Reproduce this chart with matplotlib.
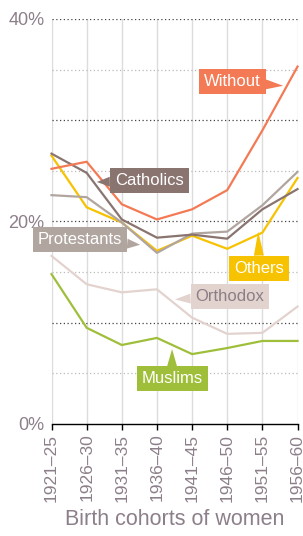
import matplotlib.pyplot as plt

# =====================================================
# DATA
# =====================================================

cohorts = ["1921–25", "1926–30", "1931–35", "1936–40",
           "1941–45", "1946–50", "1951–55", "1956–60"]

without = [25.2, 25.9, 21.7, 20.2, 21.2, 23.1, 29.0, 35.3]
catholics = [26.7, 24.8, 20.2, 18.4, 18.7, 18.3, 21.2, 23.2]
protestants = [22.6, 22.4, 19.9, 16.9, 18.8, 19.0, 21.6, 24.9]
others = [26.5, 21.4, 19.9, 17.1, 18.6, 17.3, 18.9, 24.3]
orthodox = [16.6, 13.8, 13.0, 13.3, 10.5, 8.9, 9.0, 11.6]
muslims = [14.8, 9.5, 7.8, 8.5, 6.9, 7.5, 8.2, 8.2]

# =====================================================
# STYLE
# =====================================================

plt.rcParams['font.family'] = ['Liberation Sans', 'DejaVu Sans']

TEXT_COLOR = "#8c7f8a"

series = [
    # name, values, colour, text colour, box centre, pointer tip
    ("Muslims", muslims, "#9fbf3b", "white", (3.43, 4.45), (3.43, 7.4)),
    ("Orthodox", orthodox, "#e3d3cf", "#8a7f86", (5.08, 12.6), (3.51, 12.3)),
    ("Others", others, "#f7c200", "white", (5.91, 15.4), (5.88, 19.0)),
    ("Protestants", protestants, "#b1a59f", "white", (0.81, 18.2), (2.52, 17.7)),
    ("Catholics", catholics, "#8a7470", "white", (2.78, 24.0), (1.29, 23.9)),
    ("Without", without, "#f37a55", "white", (5.14, 33.8), (6.59, 33.4)),
]

# =====================================================
# FIGURE
# =====================================================

fig = plt.figure(figsize=(3.03, 5.36), dpi=100)
ax = fig.add_axes([0.170, 0.209, 0.812, 0.7556])

x = list(range(len(cohorts)))

# grid
for xi in x:
    ax.axvline(xi, color="#dcdcdc", lw=1, zorder=0)

for yv in [10, 20, 30, 40]:
    ax.axhline(yv, color="#444444", lw=0.9, ls=(0, (1, 2)), zorder=0)

for yv in [5, 15, 25, 35]:
    ax.axhline(yv, color="#bbbbbb", lw=0.9, ls=(0, (1, 2)), zorder=0)

# lines and callouts
for name, vals, color, tcolor, box, tip in series:

    ax.plot(x, vals, color=color, lw=1.6, clip_on=False, zorder=3)

    ax.annotate(
        name,
        xy=tip,
        xytext=box,
        ha="center",
        va="center",
        fontsize=12,
        color=tcolor,
        zorder=5,
        bbox=dict(boxstyle="square,pad=0.3", fc=color, ec="none"),
        arrowprops=dict(
            arrowstyle="wedge,tail_width=0.6",
            fc=color,
            ec="none",
            shrinkA=0,
            shrinkB=0
        )
    )

# =====================================================
# AXES
# =====================================================

ax.set_xlim(0, 7)
ax.set_ylim(0, 40)

ax.set_xticks(x)
ax.set_xticklabels(cohorts, rotation=90, fontsize=12.5, color=TEXT_COLOR)

ax.set_yticks([0, 20, 40])
ax.set_yticklabels(["0%", "20%", "40%"], fontsize=13, color=TEXT_COLOR)

ax.tick_params(axis="x", length=4, width=1, color="black", pad=3)
ax.tick_params(axis="y", length=0, pad=5)

for side in ["top", "right", "left"]:
    ax.spines[side].set_visible(False)

ax.spines["bottom"].set_color("black")
ax.spines["bottom"].set_linewidth(1)
ax.spines["bottom"].set_zorder(4)

ax.set_xlabel("Birth cohorts of women", fontsize=15.5, color=TEXT_COLOR,
              labelpad=5)

fig.savefig("out.png", dpi=100)
